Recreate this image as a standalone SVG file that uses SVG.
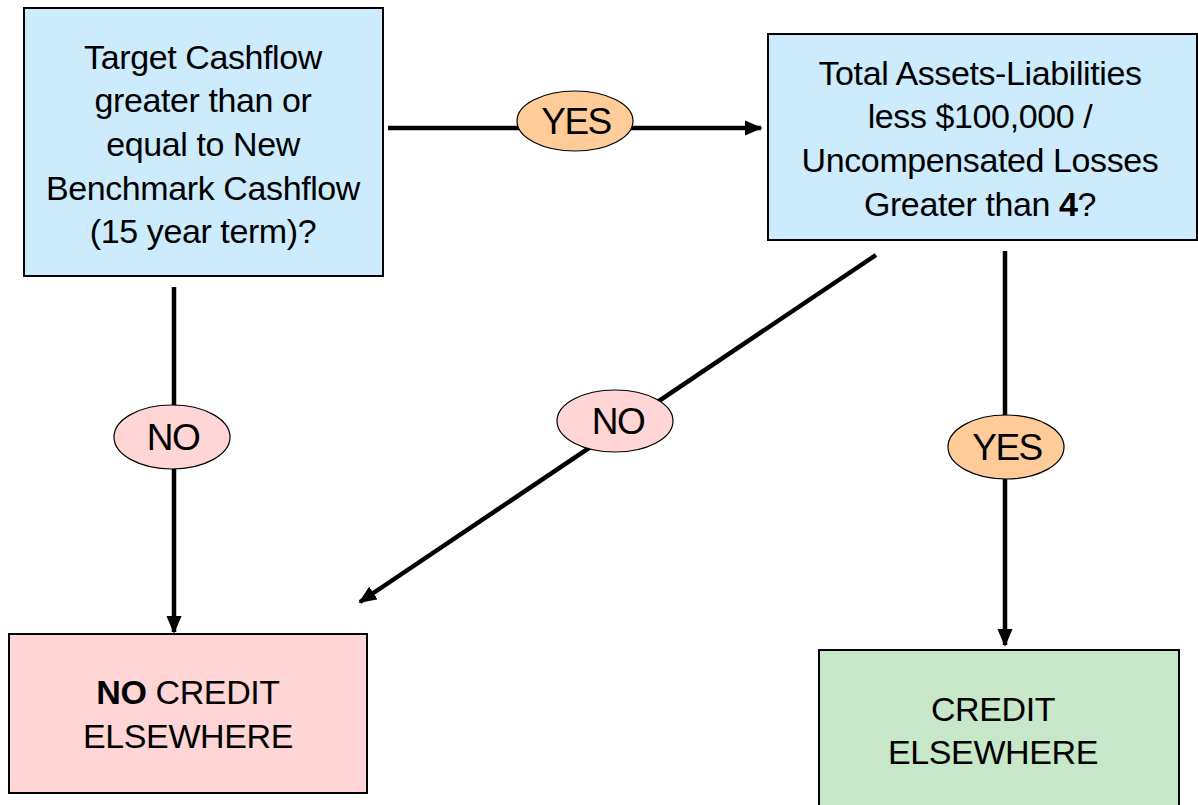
<svg xmlns="http://www.w3.org/2000/svg" width="1198" height="805" viewBox="0 0 1198 805">
<style>
text{font-family:"Liberation Sans",Arial,sans-serif;font-size:34px;fill:#000;text-anchor:middle;letter-spacing:-0.4px}
.lt{font-size:37px;letter-spacing:-1.5px}
.box{stroke:#000;stroke-width:2}
.q{fill:#CCEBFC}
.no{fill:#FFD5D5}
.ok{fill:#C6E7C8}
.yes{fill:#FFCC99}
.lab{stroke:#000;stroke-width:1.2}
.conn{stroke:#000;stroke-width:4.5;fill:none}
.b{font-weight:bold}
</style>
<defs>
<marker id="ah" markerWidth="4" markerHeight="3.4" refX="3.6" refY="1.7" orient="auto" markerUnits="strokeWidth">
<path d="M0,0 L4,1.7 L0,3.4 Z" fill="#000"/>
</marker>
</defs>
<rect width="1198" height="805" fill="#fff"/>
<g id="connectors">
<line class="conn" x1="388" y1="128" x2="761" y2="128" marker-end="url(#ah)"/>
<line class="conn" x1="174" y1="287" x2="174" y2="632" marker-end="url(#ah)"/>
<line class="conn" x1="876" y1="255" x2="360" y2="602" marker-end="url(#ah)"/>
<line class="conn" x1="1005" y1="251" x2="1005" y2="645" marker-end="url(#ah)"/>
</g>
<g id="q1">
<rect class="box q" x="24" y="8" width="359" height="268"/>
<text x="203" y="69">Target Cashflow</text>
<text x="203" y="112">greater than or</text>
<text x="203" y="156">equal to New</text>
<text x="203" y="200">Benchmark Cashflow</text>
<text x="203" y="243">(15 year term)?</text>
</g>
<g id="q2">
<rect class="box q" x="768" y="34" width="429" height="206"/>
<text x="980" y="85">Total Assets-Liabilities</text>
<text x="980" y="128">less $100,000 /</text>
<text x="980" y="172">Uncompensated Losses</text>
<text x="980" y="216">Greater than <tspan class="b">4</tspan>?</text>
</g>
<g id="lab-yes1">
<ellipse class="lab yes" cx="575" cy="121" rx="58" ry="30"/>
<text class="lt" x="576" y="134">YES</text>
</g>
<g id="lab-no1">
<ellipse class="lab no" cx="172" cy="437" rx="58" ry="32"/>
<text class="lt" x="173" y="450">NO</text>
</g>
<g id="lab-no2">
<ellipse class="lab no" cx="615" cy="421" rx="58" ry="31"/>
<text class="lt" x="618" y="434">NO</text>
</g>
<g id="lab-yes2">
<ellipse class="lab yes" cx="1006" cy="447" rx="58" ry="32"/>
<text class="lt" x="1007" y="460">YES</text>
</g>
<g id="nocredit">
<rect class="box no" x="9" y="634" width="358" height="159"/>
<text x="188" y="704"><tspan class="b">NO</tspan> CREDIT</text>
<text x="188" y="748">ELSEWHERE</text>
</g>
<g id="credit">
<rect class="box ok" x="819" y="650" width="360" height="160"/>
<text x="993" y="721">CREDIT</text>
<text x="993" y="764">ELSEWHERE</text>
</g>
</svg>
